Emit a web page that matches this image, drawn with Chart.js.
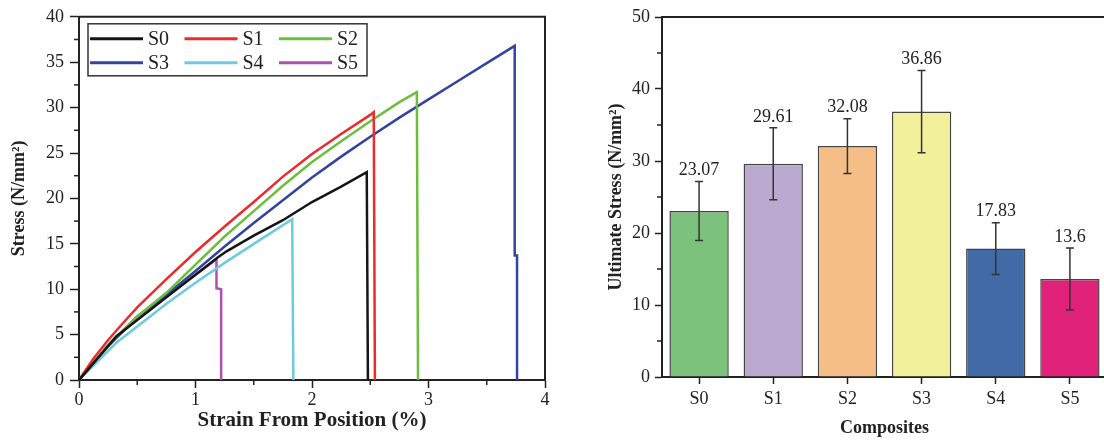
<!DOCTYPE html>
<html>
<head>
<meta charset="utf-8">
<script src="https://cdn.jsdelivr.net/npm/chart.js@4/dist/chart.umd.min.js"></script>
<style>
html, body { margin: 0; padding: 0; width: 1104px; height: 443px; overflow: hidden; background: #fff; }
#left { position: absolute; left: 0; top: 0; }
#right { position: absolute; left: 580px; top: 0; }
</style>
</head>
<body>
<canvas id="left" width="560" height="443"></canvas>
<canvas id="right" width="540" height="443"></canvas>
<script>
// stress-strain curves (strain %, stress N/mm2)
var s0Strain = [0, 0.1, 0.2, 0.32, 0.5, 0.75, 1.0, 1.19, 1.27, 1.5, 1.75, 2.0, 2.25, 2.47, 2.48];
var s0Stress = [0, 1.5, 3.0, 4.8, 6.6, 9.1, 11.6, 13.5, 14.2, 15.9, 17.6, 19.6, 21.3, 22.9, 0];
var s1Strain = [0, 0.12, 0.25, 0.38, 0.5, 0.75, 1.0, 1.25, 1.5, 1.75, 2.0, 2.25, 2.5, 2.53, 2.54];
var s1Stress = [0, 2.3, 4.4, 6.3, 8.0, 11.1, 14.1, 16.9, 19.6, 22.4, 24.9, 27.1, 29.2, 29.5, 0];
var s2Strain = [0, 0.25, 0.5, 0.75, 1.0, 1.25, 1.5, 1.75, 2.0, 2.25, 2.5, 2.75, 2.9, 2.91];
var s2Stress = [0, 3.9, 7.0, 9.6, 12.7, 15.8, 18.6, 21.4, 24.0, 26.3, 28.5, 30.6, 31.7, 0];
var s3Strain = [0, 0.25, 0.5, 0.75, 1.0, 1.25, 1.5, 1.75, 2.0, 2.25, 2.5, 2.75, 3.0, 3.25, 3.5, 3.74, 3.74, 3.76, 3.76];
var s3Stress = [0, 3.8, 7.0, 9.4, 12.0, 14.7, 17.3, 19.8, 22.3, 24.6, 26.8, 28.9, 30.9, 32.9, 34.9, 36.8, 13.7, 13.7, 0];
var s4Strain = [0, 0.32, 0.5, 0.75, 1.0, 1.25, 1.55, 1.83, 1.84];
var s4Stress = [0, 4.1, 5.9, 8.4, 10.7, 12.9, 15.4, 17.7, 0];
var s5Strain = [0, 0.25, 0.5, 0.75, 1.0, 1.18, 1.18, 1.22, 1.22];
var s5Stress = [0, 3.7, 6.9, 9.4, 11.6, 13.3, 10.1, 10.0, 0];

// ultimate stress bar chart
var composites = ['S0', 'S1', 'S2', 'S3', 'S4', 'S5'];
var ultimate = [23.07, 29.61, 32.08, 36.86, 17.83, 13.6];
var errors = [4.1, 5.0, 3.8, 5.7, 3.6, 4.3];

var serif = '"Liberation Serif", "DejaVu Serif", serif';
var ink = '#222';

function pts(xs, ys) {
    return xs.map(function (x, i) { return { x: x, y: ys[i] }; });
}

// short ticks half way between the major ones + top/right frame
var frameAndMinor = {
    id: 'frameAndMinor',
    afterDraw: function (chart) {
        var ctx = chart.ctx;
        var a = chart.chartArea;
        var o = chart.options.plugins.frameAndMinor || {};
        ctx.save();
        ctx.strokeStyle = ink;
        ctx.lineWidth = 1.5;
        (o.axes || []).forEach(function (id) {
            var sc = chart.scales[id];
            var t = sc.ticks;
            for (var i = 0; i < t.length - 1; i++) {
                var p = sc.getPixelForValue((t[i].value + t[i + 1].value) / 2);
                ctx.beginPath();
                if (sc.isHorizontal()) { ctx.moveTo(p, a.bottom); ctx.lineTo(p, a.bottom + 5); }
                else { ctx.moveTo(a.left, p); ctx.lineTo(a.left - 5, p); }
                ctx.stroke();
            }
        });
        ctx.lineWidth = 2;
        ctx.beginPath();
        ctx.moveTo(a.left, a.top);
        ctx.lineTo(a.right, a.top);
        ctx.lineTo(a.right, a.bottom);
        ctx.stroke();
        ctx.restore();
    }
};

// legend box inside plot, 3 columns x 2 rows
var boxLegend = {
    id: 'boxLegend',
    afterDraw: function (chart) {
        var ctx = chart.ctx;
        var a = chart.chartArea;
        var bx = a.left + 9, by = a.top + 7;
        ctx.save();
        ctx.fillStyle = '#fff';
        ctx.fillRect(bx, by, 279, 52);
        ctx.strokeStyle = '#333';
        ctx.lineWidth = 1.5;
        ctx.strokeRect(bx, by, 279, 52);
        ctx.font = '20px ' + serif;
        ctx.textBaseline = 'middle';
        chart.data.datasets.forEach(function (ds, i) {
            var cx = bx + 2 + (i % 3) * 94.5;
            var cy = by + 15 + Math.floor(i / 3) * 24;
            ctx.strokeStyle = ds.borderColor;
            ctx.lineWidth = 3;
            ctx.beginPath();
            ctx.moveTo(cx, cy);
            ctx.lineTo(cx + 53, cy);
            ctx.stroke();
            ctx.fillStyle = ink;
            ctx.fillText(ds.label, cx + 58, cy + 1);
        });
        ctx.restore();
    }
};

// error bars and value labels for the bars
var errorBars = {
    id: 'errorBars',
    afterDatasetsDraw: function (chart) {
        var ctx = chart.ctx;
        var ys = chart.scales.y;
        var meta = chart.getDatasetMeta(0);
        ctx.save();
        ctx.strokeStyle = '#333';
        ctx.lineWidth = 1.5;
        ctx.fillStyle = ink;
        ctx.font = '18px ' + serif;
        ctx.textAlign = 'center';
        ctx.textBaseline = 'middle';
        meta.data.forEach(function (bar, i) {
            var hi = ys.getPixelForValue(ultimate[i] + errors[i]);
            var lo = ys.getPixelForValue(ultimate[i] - errors[i]);
            ctx.beginPath();
            ctx.moveTo(bar.x, hi); ctx.lineTo(bar.x, lo);
            ctx.moveTo(bar.x - 4, hi); ctx.lineTo(bar.x + 4, hi);
            ctx.moveTo(bar.x - 4, lo); ctx.lineTo(bar.x + 4, lo);
            ctx.stroke();
            ctx.fillText(String(ultimate[i]), bar.x, hi - 11);
        });
        ctx.restore();
    }
};

new Chart(document.getElementById('left').getContext('2d'), {
    type: 'line',
    data: {
        datasets: [
            { label: 'S0', data: pts(s0Strain, s0Stress), borderColor: '#151515' },
            { label: 'S1', data: pts(s1Strain, s1Stress), borderColor: '#ee2a2a' },
            { label: 'S2', data: pts(s2Strain, s2Stress), borderColor: '#6cbf3e' },
            { label: 'S3', data: pts(s3Strain, s3Stress), borderColor: '#3344a0' },
            { label: 'S4', data: pts(s4Strain, s4Stress), borderColor: '#6ccbdc' },
            { label: 'S5', data: pts(s5Strain, s5Stress), borderColor: '#b04fb0' }
        ]
    },
    options: {
        responsive: false,
        animation: false,
        layout: { padding: { left: 0, top: 16, right: 15, bottom: 0 } },
        elements: { point: { radius: 0 }, line: { borderWidth: 2.5, tension: 0 } },
        plugins: { legend: { display: false }, tooltip: { enabled: false }, frameAndMinor: { axes: ['x', 'y'] } },
        scales: {
            x: {
                type: 'linear', min: 0, max: 4,
                afterFit: function (s) { s.height = 63; },
                border: { color: ink, width: 2 },
                grid: { drawOnChartArea: false, tickLength: 8, color: ink, tickWidth: 1.5 },
                ticks: { stepSize: 1, padding: 1, color: ink, font: { family: serif, size: 18 } },
                title: { display: true, text: 'Strain From Position (%)', color: ink, padding: { top: 0, bottom: 10 }, font: { family: serif, size: 21, weight: 'bold' } }
            },
            y: {
                min: 0, max: 40,
                afterFit: function (s) { s.width = 79; },
                border: { color: ink, width: 2 },
                grid: { drawOnChartArea: false, tickLength: 9, color: ink, tickWidth: 1.5 },
                ticks: { stepSize: 5, padding: 6, color: ink, font: { family: serif, size: 18 } },
                title: { display: true, text: 'Stress (N/mm²)', color: ink, padding: { top: 9, bottom: 0 }, font: { family: serif, size: 18, weight: 'bold' } }
            }
        }
    },
    plugins: [frameAndMinor, boxLegend]
});

new Chart(document.getElementById('right').getContext('2d'), {
    type: 'bar',
    data: {
        labels: composites,
        datasets: [{
            label: 'Ultimate Stress',
            data: ultimate,
            backgroundColor: ['#7dc27c', '#bbaad0', '#f5be87', '#f3f09c', '#416aa6', '#e0217a'],
            borderColor: '#444',
            borderWidth: 1.5,
            categoryPercentage: 1,
            barPercentage: 0.8
        }]
    },
    options: {
        responsive: false,
        animation: false,
        layout: { padding: { left: 0, top: 17, right: 13, bottom: 0 } },
        plugins: { legend: { display: false }, tooltip: { enabled: false }, frameAndMinor: { axes: ['y'] } },
        scales: {
            x: {
                afterFit: function (s) { s.height = 66; },
                border: { color: ink, width: 2 },
                grid: { offset: false, drawOnChartArea: false, tickLength: 7, color: ink, tickWidth: 1.5 },
                ticks: { padding: 4, color: ink, font: { family: serif, size: 18 } },
                title: { display: true, text: 'Composites', color: ink, padding: { top: 0, bottom: 4 }, font: { family: serif, size: 18, weight: 'bold' } }
            },
            y: {
                min: 0, max: 50,
                afterFit: function (s) { s.width = 82; },
                border: { color: ink, width: 2 },
                grid: { drawOnChartArea: false, tickLength: 7, color: ink, tickWidth: 1.5 },
                ticks: { stepSize: 10, padding: 5, color: ink, font: { family: serif, size: 18 } },
                title: { display: true, text: 'Ultimate Stress (N/mm²)', color: ink, padding: { top: 26, bottom: 0 }, font: { family: serif, size: 18, weight: 'bold' } }
            }
        }
    },
    plugins: [frameAndMinor, errorBars]
});
</script>
</body>
</html>
